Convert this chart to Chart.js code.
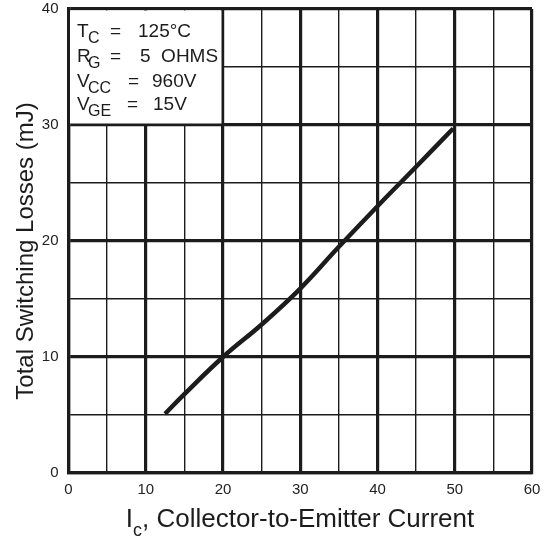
<!DOCTYPE html>
<html>
<head>
<meta charset="utf-8">
<script src="https://cdn.jsdelivr.net/npm/chart.js@4/dist/chart.umd.min.js"></script>
<style>
  body { margin: 0; background: #fff; }
  #wrap { width: 544px; height: 542px; position: relative; }
</style>
</head>
<body>
<div id="wrap"><canvas id="myChart"></canvas></div>
<script>
// curve
const currentA = [12.5, 15, 20, 25, 30, 35, 40, 45, 49.8];
const lossesMJ = [5.1, 6.8, 10.0, 12.8, 15.9, 19.5, 23.0, 26.4, 29.7];

const xTicks = [0, 10, 20, 30, 40, 50, 60];
const yTicks = [0, 10, 20, 30, 40];

// test conditions box: symbol, subscript, value
const conditions = [
  ["T", "C", "125°C"],
  ["R", "G", "5  OHMS"],
  ["V", "CC", "960V"],
  ["V", "GE", "15V"],
];

const ink = "#1c1c1c";
const fam = '"Liberation Sans", Arial, sans-serif';

const points = currentA.map((x, i) => ({ x: x, y: lossesMJ[i] }));

const gridWidth = (c) => (c.tick && c.tick.value % 10 === 0 ? 3.2 : 1.4);

// white box with the conditions, drawn over the grid
const condBox = {
  id: "condBox",
  beforeDatasetsDraw(chart) {
    const ctx = chart.ctx;
    const xs = chart.scales.x;
    const ys = chart.scales.y;
    const l = xs.getPixelForValue(0) + 1.5;
    const r = xs.getPixelForValue(20) - 1.5;
    const t = ys.getPixelForValue(40) + 1.5;
    const b = ys.getPixelForValue(30) - 1.5;
    ctx.save();
    ctx.fillStyle = "#fff";
    ctx.fillRect(l, t, r - l, b - t);
    ctx.fillStyle = ink;
    ctx.textBaseline = "alphabetic";
    const rows = [
      { y: 37, eq: 110, val: 138 },
      { y: 62, eq: 110, val: 140 },
      { y: 87, eq: 128, val: 152 },
      { y: 110, eq: 127, val: 153 },
    ];
    conditions.forEach((c, i) => {
      const row = rows[i];
      ctx.font = "19px " + fam;
      ctx.fillText(c[0], 77, row.y);
      ctx.fillText("=", row.eq, row.y);
      ctx.fillText(c[2], row.val, row.y);
      ctx.font = "16px " + fam;
      ctx.fillText(c[1], 88, row.y + 6);
    });
    ctx.restore();
  },
};

// axis titles (x title has a subscript)
const axisTitles = {
  id: "axisTitles",
  afterDraw(chart) {
    const ctx = chart.ctx;
    ctx.save();
    ctx.fillStyle = ink;
    ctx.textBaseline = "alphabetic";

    ctx.font = "26px " + fam;
    const wI = ctx.measureText("I").width;
    const rest = ", Collector-to-Emitter Current";
    const wRest = ctx.measureText(rest).width;
    ctx.font = "18px " + fam;
    const wSub = ctx.measureText("c").width;
    const total = wI + wSub + wRest;
    let x = 300 - total / 2;
    ctx.font = "26px " + fam;
    ctx.fillText("I", x, 527);
    x += wI;
    ctx.font = "18px " + fam;
    ctx.fillText("c", x, 536);
    x += wSub;
    ctx.font = "26px " + fam;
    ctx.fillText(rest, x, 527);

    ctx.translate(33, 251);
    ctx.rotate(-Math.PI / 2);
    ctx.textAlign = "center";
    ctx.font = "24px " + fam;
    ctx.fillText("Total Switching Losses (mJ)", 0, 0);
    ctx.restore();
  },
};

const config = {
  type: "line",
  data: {
    datasets: [
      {
        label: "Total Switching Losses",
        data: points,
        borderColor: ink,
        borderWidth: 4.5,
        pointRadius: 0,
        tension: 0.4,
        fill: false,
      },
    ],
  },
  options: {
    responsive: true,
    maintainAspectRatio: false,
    animation: false,
    layout: { padding: { top: 9, right: 12, left: 0, bottom: 0 } },
    plugins: {
      legend: { display: false },
      tooltip: { enabled: false },
    },
    scales: {
      x: {
        type: "linear",
        min: xTicks[0],
        max: xTicks[xTicks.length - 1],
        afterFit: (s) => {
          s.height = 69;
          s.paddingLeft = 0;
          s.paddingRight = 0;
        },
        grid: { color: ink, lineWidth: gridWidth, drawTicks: false },
        border: { color: ink, width: 3.2 },
        ticks: {
          stepSize: 5,
          padding: 8,
          color: "#222",
          font: { family: fam, size: 15 },
          maxRotation: 0,
          callback: (v) => (xTicks.includes(v) ? v : ""),
        },
      },
      y: {
        min: yTicks[0],
        max: yTicks[yTicks.length - 1],
        afterFit: (s) => {
          s.width = 68.5;
          s.paddingTop = 0;
          s.paddingBottom = 0;
        },
        grid: { color: ink, lineWidth: gridWidth, drawTicks: false },
        border: { color: ink, width: 3.2 },
        ticks: {
          stepSize: 5,
          padding: 10,
          color: "#222",
          font: { family: fam, size: 15 },
          callback: (v) => (yTicks.includes(v) ? v : ""),
        },
      },
    },
  },
  plugins: [condBox, axisTitles],
};

const myChart = new Chart(document.getElementById("myChart"), config);
</script>
</body>
</html>
